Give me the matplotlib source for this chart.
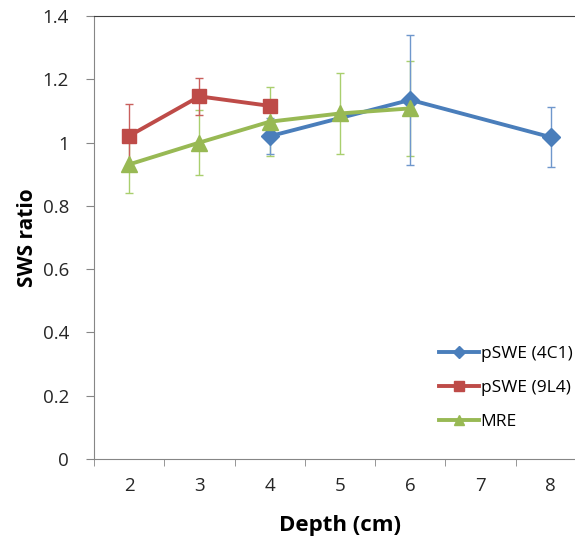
import numpy as np
import matplotlib.pyplot as plt

# categories on the x axis (equally spaced)
depths = [2, 3, 4, 5, 6, 7, 8]

# pSWE (4C1)
d_4c1 = [4, 6, 8]
v_4c1 = [1.02, 1.135, 1.017]
e_4c1 = [0.057, 0.205, 0.095]

# pSWE (9L4)
d_9l4 = [2, 3, 4]
v_9l4 = [1.021, 1.146, 1.116]
e_9l4 = [0.10, 0.058, 0.02]

# MRE
d_mre = [2, 3, 4, 5, 6]
v_mre = [0.931, 1.0, 1.066, 1.092, 1.108]
e_mre = [0.09, 0.103, 0.109, 0.127, 0.15]

yticks = [0, 0.2, 0.4, 0.6, 0.8, 1, 1.2, 1.4]
ytick_labels = ['0', '0.2', '0.4', '0.6', '0.8', '1', '1.2', '1.4']

plt.rcParams['font.family'] = ['Open Sans', 'DejaVu Sans']

blue, red, green = '#4A7EBB', '#BE4B48', '#98B954'


def pos(ds):
    return [depths.index(d) for d in ds]


fig = plt.figure(figsize=(5.75, 5.36), dpi=100)
ax = fig.add_axes([94 / 575, 1 - 459 / 536, 492 / 575, (459 - 16) / 536])

ax.errorbar(pos(d_mre), v_mre, yerr=e_mre, fmt='none', ecolor='#A9CF6E',
            elinewidth=1.0, capsize=3, capthick=1.0, zorder=1)
ax.errorbar(pos(d_9l4), v_9l4, yerr=e_9l4, fmt='none', ecolor='#C9605D',
            elinewidth=1.0, capsize=3, capthick=1.0, zorder=1)
ax.errorbar(pos(d_4c1), v_4c1, yerr=e_4c1, fmt='none', ecolor='#6F97CC',
            elinewidth=1.0, capsize=3, capthick=1.0, zorder=1)

ax.plot(pos(d_4c1), v_4c1, color=blue, lw=2.8, marker='D', ms=9,
        label='pSWE (4C1)', zorder=3)
ax.plot(pos(d_9l4), v_9l4, color=red, lw=2.8, marker='s', ms=10.5,
        label='pSWE (9L4)', zorder=4)
ax.plot(pos(d_mre), v_mre, color=green, lw=2.8, marker='^', ms=12,
        label='MRE', zorder=5)

ax.set_xlim(-0.5, len(depths) - 0.5)
ax.set_ylim(0, 1.4)
ax.set_xticks(np.arange(len(depths)))
ax.set_xticklabels([str(d) for d in depths])
ax.set_xticks(np.arange(len(depths)) - 0.5, minor=True)
ax.tick_params(axis='x', which='major', length=0, pad=13, labelsize=13.5,
               colors='#262626')
ax.tick_params(axis='x', which='minor', length=5, color='#868686')
ax.set_yticks(yticks)
ax.set_yticklabels(ytick_labels)
ax.tick_params(axis='y', length=6, color='#868686', labelsize=13.5,
               labelcolor='#262626', pad=12)

for s in ['left', 'bottom']:
    ax.spines[s].set_color('#868686')
ax.spines['top'].set_color('#404040')
ax.spines['right'].set_visible(False)

ax.set_xlabel('Depth (cm)', fontsize=16, fontweight='bold', labelpad=14)
ax.set_ylabel('SWS ratio', fontsize=15, fontweight='bold', labelpad=3)

ax.legend(loc='upper left', bbox_to_anchor=(432 / 575, 1 - 339 / 536),
          bbox_transform=fig.transFigure, frameon=False, fontsize=12.5,
          markerscale=0.65, handlelength=2.3, handletextpad=0.1,
          labelspacing=1.02, borderaxespad=0)

fig.savefig('out.png', dpi=100)
